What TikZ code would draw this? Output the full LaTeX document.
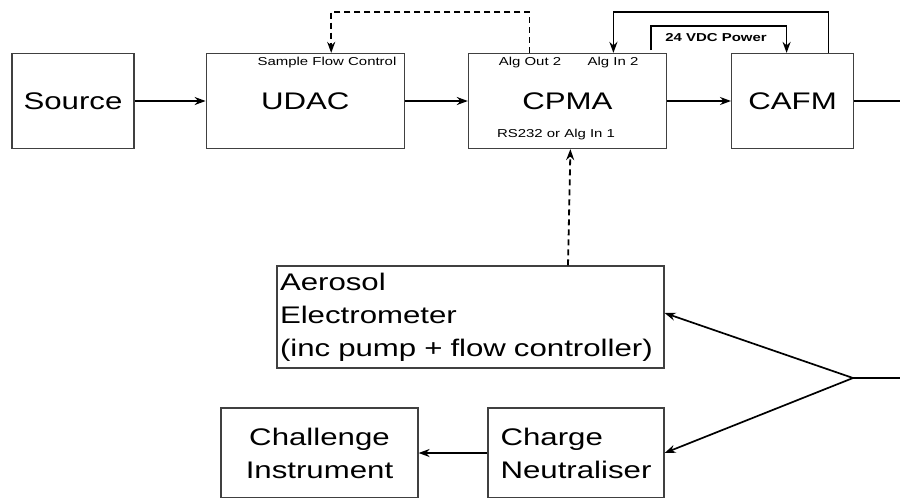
\documentclass[tikz,border=0pt]{standalone}
\usepackage{fontspec}
\setmainfont{Liberation Sans}[FakeStretch=1.3]
\usetikzlibrary{arrows.meta,positioning}
\newcommand{\bigtxt}{\fontsize{24}{33}\selectfont}
\newcommand{\smalltxt}{\fontsize{11.5}{13}\selectfont}
\tikzset{
  >={Stealth[length=11pt,width=8pt]},
  box/.style={draw=black!75,line width=1.2pt,inner sep=2pt,font=\bigtxt,align=center},
  tbox/.style={box,minimum width=122pt,minimum height=95pt},
  wbox/.style={box,minimum width=198pt,minimum height=95pt},
  tag/.style={font=\smalltxt,inner sep=0pt},
  arr/.style={->,draw=black,line width=1.7pt},
  darr/.style={->,draw=black,line width=1.8pt,dash pattern=on 6pt off 4pt},
  wire/.style={draw=black,line width=1.7pt},
}

\begin{document}
\begin{tikzpicture}[x=1pt,y=-1pt]
\useasboundingbox (0,0) rectangle (900,499);
\clip (-2,-2) rectangle (902,497);
% top row
\node[tbox] (src) at (73,101) {Source};
\node[wbox,right=71pt of src] (udac) {UDAC};
\node[wbox,right=63pt of udac] (cpma) {CPMA};
\node[tbox,right=64pt of cpma] (cafm) {CAFM};
\node[tag] (sfc) at (327,63) {Sample Flow Control};
\node[tag] (aout) at (530,63) {Alg Out 2};
\node[tag] (ain2) at (613,63) {Alg In 2};
\node[tag] (ain1) at (556,135) {RS232 or Alg In 1};
\node[tag,font=\smalltxt\bfseries] (pwr) at (716,38) {24 VDC Power};
% lower part
\node[box,minimum width=387pt,minimum height=102pt,text width=381pt,align=left] (aero) at (470.5,317) {Aerosol\\Electrometer\\(inc pump + flow controller)};
\node[box,minimum width=197pt,minimum height=90pt] (chal) at (319.5,453) {Challenge\\Instrument};
\node[box,minimum width=176pt,minimum height=90pt,align=left] (neut) at (576,453) {Charge\\Neutraliser};
\coordinate (exitR) at (905,101);
\coordinate (inR) at (905,378);
\coordinate (split) at (853,378);
\coordinate (pw0) at (651,50);
% connectors
\foreach \u/\v in {src/udac,udac/cpma,cpma/cafm,neut/chal} \draw[arr] (\u)--(\v);
\draw[wire] (cafm) -- (exitR);
\draw[darr] ([xshift=-38pt]cpma.north) -- ++(0,-41) -| ([xshift=26pt]udac.north);
\draw[arr] ([xshift=36pt]cafm.north) -- ++(0,-41) -| ([xshift=46pt]cpma.north);
\draw[arr] (pw0) -- ++(0,-24) -| ([xshift=-6pt]cafm.north);
\draw[darr] ([xshift=97.5pt]aero.north) -- ([xshift=3pt]cpma.south);
\draw[wire] (inR) -- (split);
\draw[arr] (split) -- ([yshift=4pt]aero.east);
\draw[arr] (split) -- (neut.east);
\end{tikzpicture}
\end{document}
